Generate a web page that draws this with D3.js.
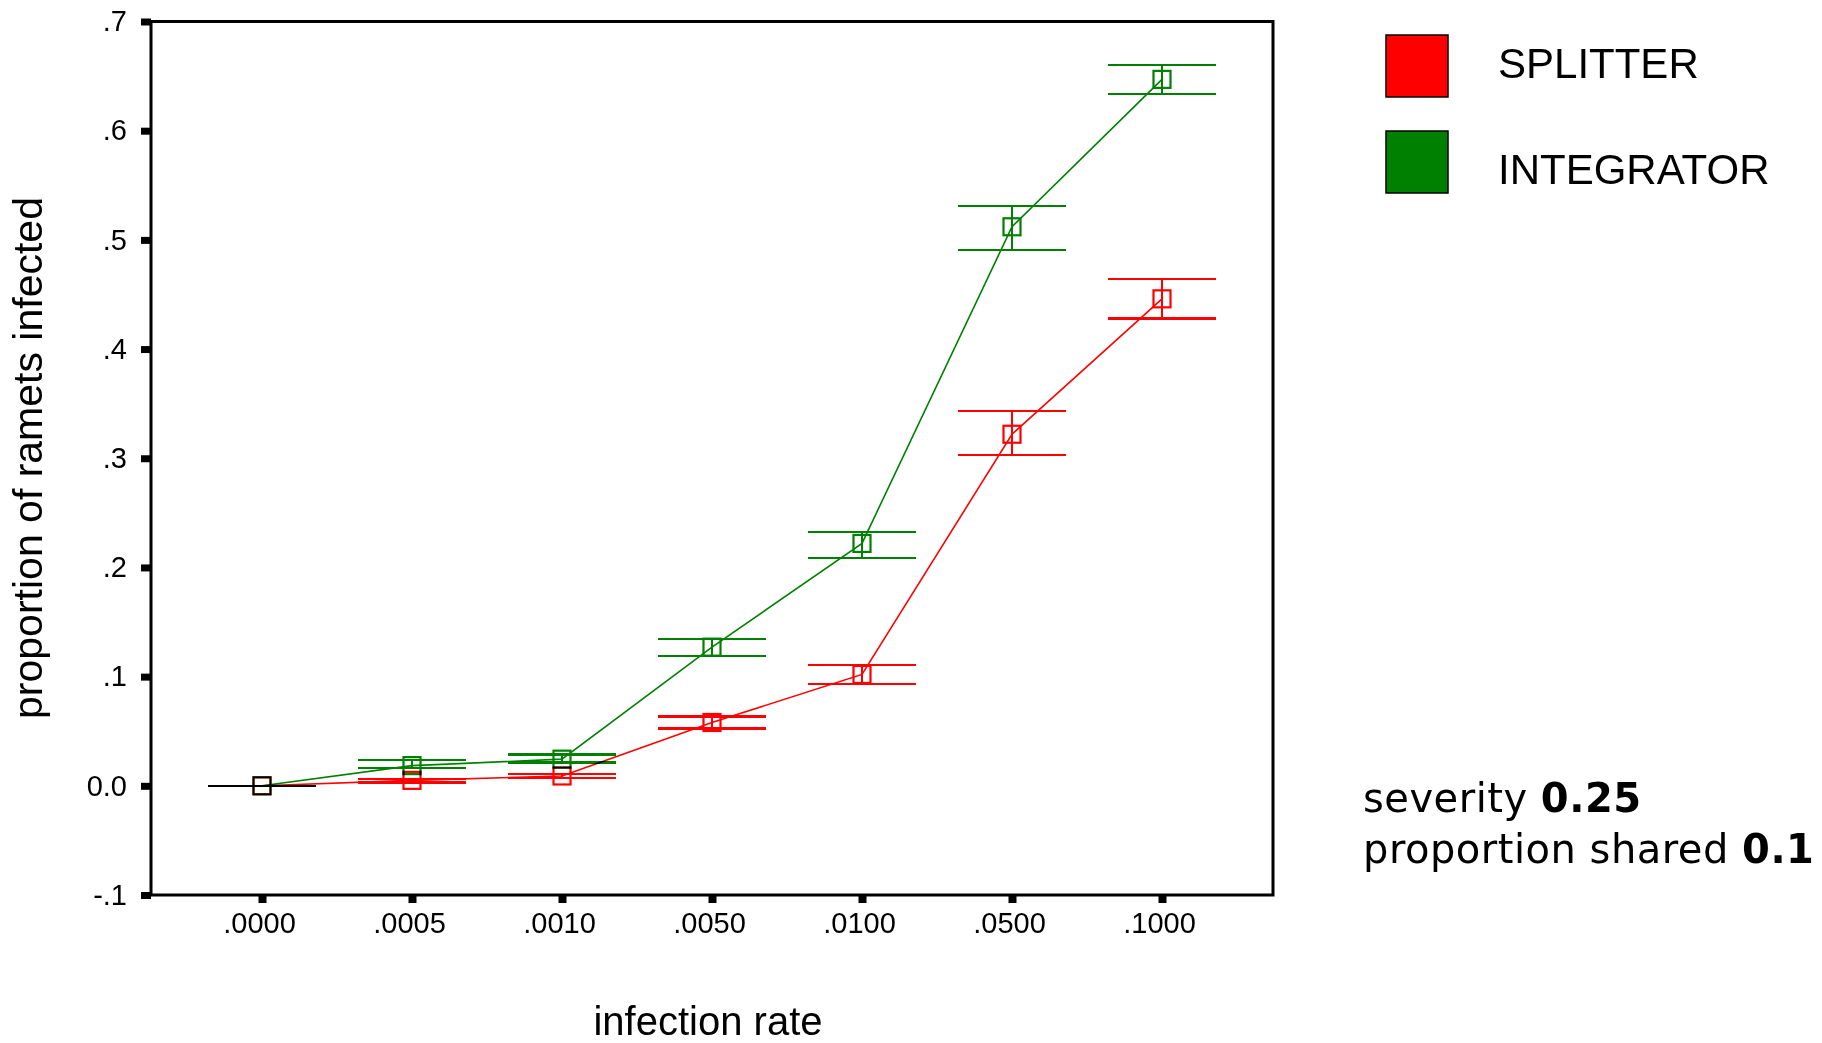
<!DOCTYPE html>
<html>
<head>
<meta charset="utf-8">
<script src="https://cdn.jsdelivr.net/npm/d3@7"></script>
<style>
    body { margin: 0; background: #fff; }
    svg { display: block; }
    .tick text { font-family: "Liberation Sans", Arial, sans-serif; font-size: 29px; fill: #000; }
    .series { mix-blend-mode: multiply; }
</style>
</head>
<body>
<svg id="chart" width="1822" height="1043"></svg>
<script>
// data
const categories = [".0000", ".0005", ".0010", ".0050", ".0100", ".0500", ".1000"];
const splitterMean = [0, 0.005, 0.009, 0.058, 0.102, 0.322, 0.446];
const splitterLow  = [0, 0.003, 0.007, 0.0525, 0.093, 0.303, 0.428];
const splitterHigh = [0, 0.0065, 0.011, 0.0635, 0.111, 0.3435, 0.464];
const integratorMean = [0, 0.0185, 0.0244, 0.127, 0.222, 0.512, 0.647];
const integratorLow  = [0, 0.016, 0.0214, 0.119, 0.2086, 0.491, 0.6335];
const integratorHigh = [0, 0.024, 0.0287, 0.1348, 0.2324, 0.531, 0.660];
const yTickValues = [-0.1, 0, 0.1, 0.2, 0.3, 0.4, 0.5, 0.6, 0.7];
const yTickLabels = ["-.1", "0.0", ".1", ".2", ".3", ".4", ".5", ".6", ".7"];
const seriesNames = ["SPLITTER", "INTEGRATOR"];
const seriesColors = ["#ff0000", "#008000"];

const svg = d3.select("#chart");

// plot frame
const plotLeft = 151, plotRight = 1273, plotTop = 21.5, plotBottom = 895;

const x = d3.scalePoint().domain(categories).range([plotLeft, plotRight]).padding(0.74);
const y = d3.scaleLinear().domain([-0.1, 0.7]).range([plotBottom, plotTop]);

// axes
const yAxis = svg.append("g")
    .attr("transform", `translate(${plotLeft},0)`)
    .call(d3.axisLeft(y).tickValues(yTickValues)
        .tickFormat((d, i) => yTickLabels[i])
        .tickSize(10).tickPadding(14));
yAxis.select(".domain").remove();
yAxis.selectAll(".tick line").attr("stroke", "#000").attr("stroke-width", 7);

const xAxis = svg.append("g")
    .attr("transform", `translate(0,${plotBottom})`)
    .call(d3.axisBottom(x).tickSize(8).tickPadding(9));
xAxis.select(".domain").remove();
xAxis.selectAll(".tick line").attr("stroke", "#000").attr("stroke-width", 8);
xAxis.selectAll(".tick text").attr("dx", -3);

svg.append("rect")
    .attr("x", plotLeft).attr("y", plotTop)
    .attr("width", plotRight - plotLeft).attr("height", plotBottom - plotTop)
    .attr("fill", "none").attr("stroke", "#000").attr("stroke-width", 3);

// series: line, error bars, hollow square markers
const series = [
    { mean: splitterMean, low: splitterLow, high: splitterHigh },
    { mean: integratorMean, low: integratorLow, high: integratorHigh }
];
const line = d3.line().x((d, i) => x(categories[i])).y(d => y(d));
const capHalf = 54, markerSize = 17;

series.forEach((s, si) => {
    const color = seriesColors[si];
    const g = svg.append("g").attr("class", "series");
    const pts = categories.map((c, i) => ({ c: c, m: s.mean[i], lo: s.low[i], hi: s.high[i] }));

    g.append("path")
        .datum(s.mean)
        .attr("d", line)
        .attr("fill", "none")
        .attr("stroke", color)
        .attr("stroke-width", 1.6);

    g.selectAll("line.stem")
        .data(pts)
        .join("line")
        .attr("class", "stem")
        .attr("x1", d => x(d.c)).attr("x2", d => x(d.c))
        .attr("y1", d => y(d.hi)).attr("y2", d => y(d.lo))
        .attr("stroke", color).attr("stroke-width", 2);

    ["lo", "hi"].forEach(k => {
        g.selectAll(`line.cap-${k}`)
            .data(pts)
            .join("line")
            .attr("class", `cap-${k}`)
            .attr("x1", d => x(d.c) - capHalf).attr("x2", d => x(d.c) + capHalf)
            .attr("y1", d => y(d[k])).attr("y2", d => y(d[k]))
            .attr("stroke", color).attr("stroke-width", 2.2)
            .attr("shape-rendering", "crispEdges");
    });

    g.selectAll("rect.marker")
        .data(pts)
        .join("rect")
        .attr("class", "marker")
        .attr("x", d => x(d.c) - markerSize / 2)
        .attr("y", d => y(d.m) - markerSize / 2)
        .attr("width", markerSize).attr("height", markerSize)
        .attr("fill", "none")
        .attr("stroke", color).attr("stroke-width", 2.2);
});

// axis titles
svg.append("text")
    .attr("x", 708).attr("y", 1035)
    .attr("text-anchor", "middle")
    .style("font-family", "'Liberation Sans', Arial, sans-serif")
    .style("font-size", "40px")
    .text("infection rate");

svg.append("text")
    .attr("transform", "translate(42,458) rotate(-90)")
    .attr("text-anchor", "middle")
    .style("font-family", "'Liberation Sans', Arial, sans-serif")
    .style("font-size", "41px")
    .text("proportion of ramets infected");

// legend
const legend = svg.append("g");
legend.selectAll("rect")
    .data(seriesNames)
    .join("rect")
    .attr("x", 1386).attr("y", (d, i) => 35 + i * 96)
    .attr("width", 62).attr("height", 62)
    .attr("fill", (d, i) => seriesColors[i])
    .attr("stroke", "#000").attr("stroke-width", 1.5);
legend.selectAll("text")
    .data(seriesNames)
    .join("text")
    .attr("x", 1498).attr("y", (d, i) => 77.5 + i * 106)
    .style("font-family", "'Liberation Sans', Arial, sans-serif")
    .style("font-size", "42px")
    .text(d => d);

// annotation
const note = svg.append("text")
    .style("font-family", "'DejaVu Sans', Verdana, sans-serif")
    .style("font-size", "40px")
    .style("letter-spacing", "0.5px");
const l1 = note.append("tspan").attr("x", 1363).attr("y", 812);
l1.append("tspan").text("severity ");
l1.append("tspan").style("font-weight", "bold").text("0.25");
const l2 = note.append("tspan").attr("x", 1363).attr("y", 863);
l2.append("tspan").text("proportion shared ");
l2.append("tspan").style("font-weight", "bold").text("0.1");
</script>
</body>
</html>
